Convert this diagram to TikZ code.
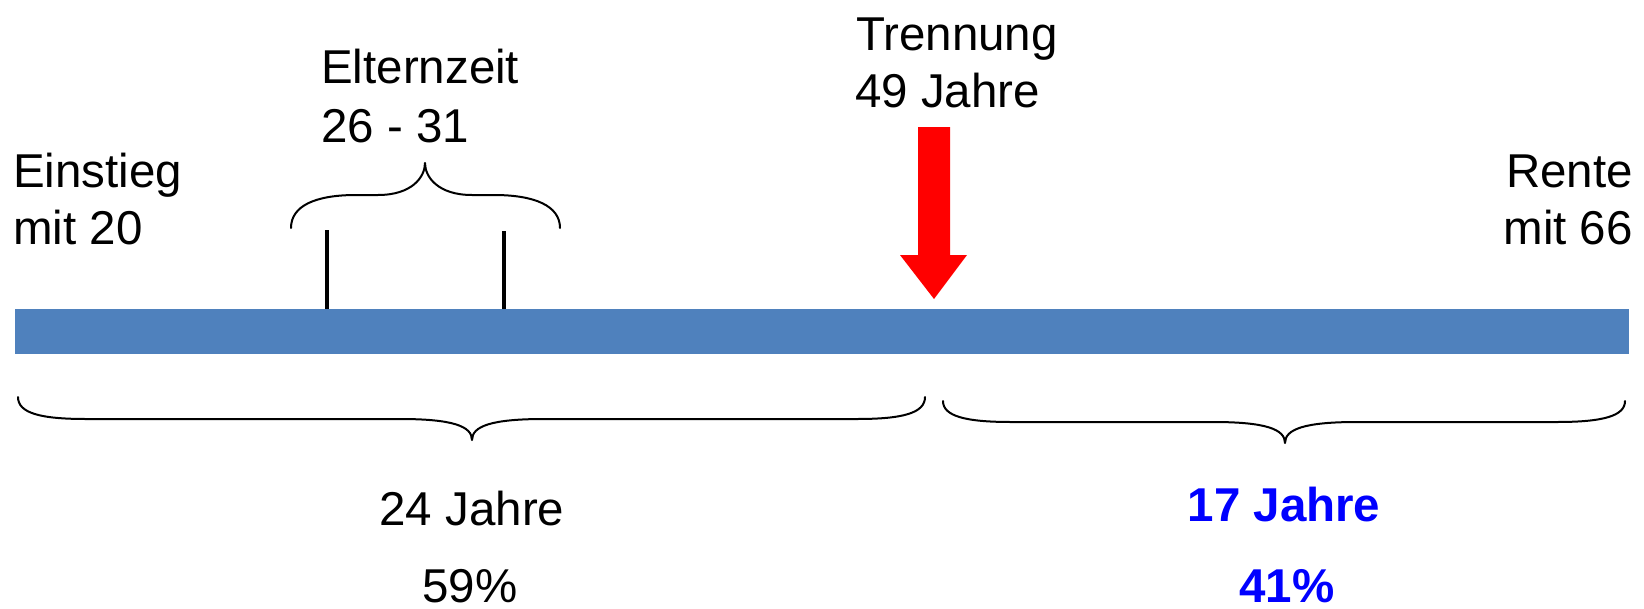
\documentclass[tikz,border=0pt]{standalone}
\usepackage{fontspec}
\setmainfont{Liberation Sans}
\definecolor{barblue}{HTML}{4F81BD}
\definecolor{arrowred}{HTML}{FF0000}
\definecolor{shareblue}{HTML}{0000FF}
\begin{document}
\begin{tikzpicture}[x=1pt,y=-1pt,
  lbl/.style={inner sep=0pt, font=\fontsize{47.5}{57}\selectfont},
  share/.style={inner sep=0pt, text=shareblue, font=\fontsize{47.5}{57}\selectfont\bfseries},
  bracket/.style={line width=2pt, line cap=round, line join=round},
  tickline/.style={line width=3.5pt}]
\useasboundingbox (0,0) rectangle (1644,608);

% timeline bar
\coordinate (barNW) at (15,309);
\coordinate (barSE) at (1629,354);
\fill[barblue] (barNW) rectangle (barSE);

% parental leave ticks
\coordinate (tickA) at (327,230);
\coordinate (tickB) at (504,231);
\draw[tickline] (tickA) -- (tickA |- barNW);
\draw[tickline] (tickB) -- (tickB |- barNW);

% brace above the parental leave span
\draw[bracket] (291,228) .. controls (291,206) and (315,195) .. (356,195) -- (378,195)
  .. controls (412,195) and (425,177) .. (425,163)
  .. controls (425,177) and (438,195) .. (472,195) -- (494,195)
  .. controls (535,195) and (560,206) .. (560,228);

% separation arrow
\fill[arrowred] (918,127) -- (950,127) -- (950,255) -- (967,255) -- (934,299)
  -- (900,255) -- (918,255) -- cycle;

% braces below the bar
\draw[bracket] (18,397) .. controls (18,413) and (40,419) .. (86,419) -- (400,419)
  .. controls (452,419) and (472,426) .. (472,440)
  .. controls (472,426) and (492,419) .. (544,419) -- (857,419)
  .. controls (903,419) and (925,413) .. (925,397);
\draw[bracket] (943,401) .. controls (943,416) and (965,422) .. (1011,422) -- (1213,422)
  .. controls (1265,422) and (1285,429) .. (1285,443)
  .. controls (1285,429) and (1305,422) .. (1357,422) -- (1557,422)
  .. controls (1603,422) and (1625,416) .. (1625,401);

% labels
\node[lbl, anchor=base west] (einstieg) at (13,187) {Einstieg};
\node[lbl, anchor=base west] (einstiegAge) at (13,244) {mit 20};
\node[lbl, anchor=base west] (eltern) at (321,83) {Elternzeit};
\node[lbl, anchor=base west] (elternAge) at (321,142) {26 - 31};
\node[lbl, anchor=base west] (trennung) at (856,50) {Trennung};
\node[lbl, anchor=base west] (trennungAge) at (855,107) {49 Jahre};
\node[lbl, anchor=base east] (rente) at (1633,187) {Rente};
\node[lbl, anchor=base east] (renteAge) at (1633,244) {mit 66};

\node[lbl, anchor=base] (jahreVor) at (472,525) {24 Jahre};
\node[lbl, anchor=base] (anteilVor) at (470,602) {59\%};
\node[share, anchor=base] (jahreNach) at (1284,521) {17 Jahre};
\node[share, anchor=base] (anteilNach) at (1287,602) {41\%};
\end{tikzpicture}
\end{document}
